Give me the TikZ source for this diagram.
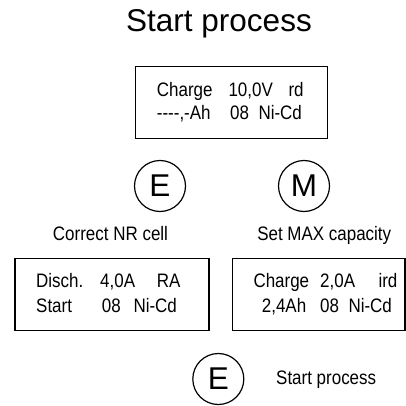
\documentclass[tikz,border=0pt]{standalone}
\usepackage{fontspec}
\setmainfont{Liberation Sans}
\newfontfamily\narrowf[FakeStretch=0.87]{Liberation Sans}
\begin{document}
\begin{tikzpicture}[x=1pt,y=-1pt,
  lcd/.style={draw,line width=1.5pt,inner sep=0pt,anchor=north west},
  txt/.style={inner sep=0pt,anchor=base west,font=\narrowf\fontsize{19.5}{22}\selectfont},
  lbl/.style={inner sep=0pt,anchor=base,font=\narrowf\fontsize{19.5}{22}\selectfont},
  big/.style={inner sep=0pt,anchor=base,font=\fontsize{31.5}{36}\selectfont},
  key/.style={draw,circle,line width=1.2pt,minimum size=51pt,inner sep=0pt,font=\fontsize{31.5}{36}\selectfont}]
\useasboundingbox (0,0) rectangle (405,406);
% title
\node[big] (title) at (219,31.7) {Start process};
% top box
\node[lcd,minimum width=192pt,minimum height=72pt] (b1) at (134.7,66) {};
\node[txt] (b1a) at (156.7,96.5) {Charge};
\node[txt] (b1b) at (228.3,96.5) {10,0V};
\node[txt] (b1c) at (288.3,96.5) {rd};
\node[txt] (b1d) at (156.7,119.5) {----,-Ah};
\node[txt] (b1e) at (230,119.5) {08};
\node[txt] (b1f) at (258.3,119.5) {Ni-Cd};
% keys
\node[key] (kE) at (160,186) {E};
\node[key] (kM) at (304,186) {M};
\node[lbl] (lE) at (110.5,240) {Correct NR cell};
\node[lbl] (lM) at (324.2,240) {Set MAX capacity};
% left box
\node[lcd,minimum width=194.3pt,minimum height=72pt] (b2) at (14,257.5) {};
\node[txt] (b2a) at (36,287.5) {Disch.};
\node[txt] (b2b) at (100,287.5) {4,0A};
\node[txt] (b2c) at (156.7,287.5) {RA};
\node[txt] (b2d) at (36,312) {Start};
\node[txt] (b2e) at (101.7,312) {08};
\node[txt] (b2f) at (133.3,312) {Ni-Cd};
% right box
\node[lcd,minimum width=172.5pt,minimum height=72pt] (b3) at (231.7,257.5) {};
\node[txt] (b3a) at (253.3,287.5) {Charge};
\node[txt] (b3b) at (320,287.5) {2,0A};
\node[txt] (b3c) at (378.3,287.5) {ird};
\node[txt] (b3d) at (261.7,312) {2,4Ah};
\node[txt] (b3e) at (320,312) {08};
\node[txt] (b3f) at (348.3,312) {Ni-Cd};
% bottom key
\node[key] (kE2) at (218.3,379) {E};
\node[txt] (lE2) at (276,384) {Start process};
\end{tikzpicture}
\end{document}
